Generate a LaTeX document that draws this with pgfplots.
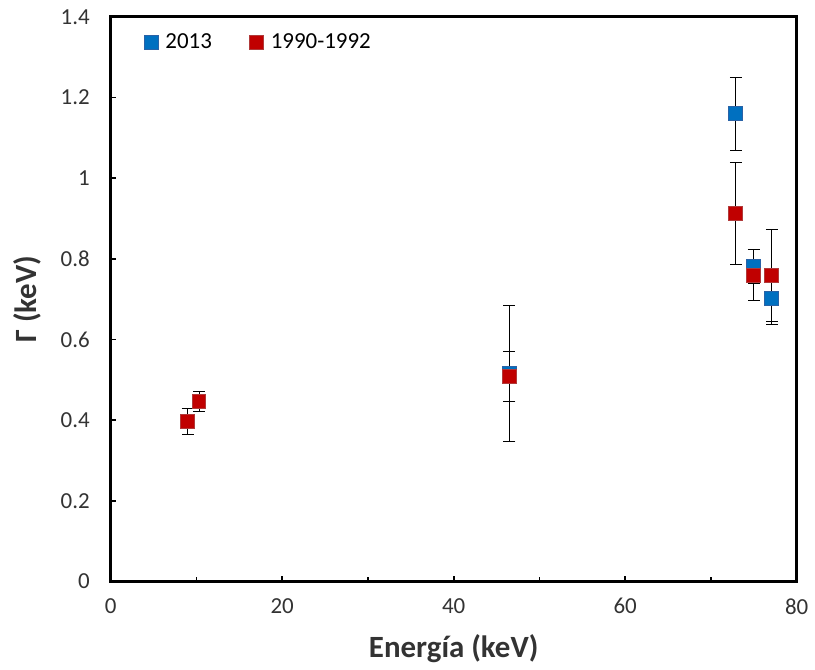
\documentclass[border=0pt]{standalone}
\usepackage{fontspec}
\setmainfont{Carlito}
\usepackage{pgfplots}
\pgfplotsset{compat=1.18}
\definecolor{blu}{HTML}{0070C0}
\definecolor{bluedge}{HTML}{2A62A6}
\definecolor{rojo}{HTML}{C00000}
\definecolor{rojoedge}{HTML}{B03A3A}

\begin{document}
\begin{tikzpicture}
  \begin{axis}[
      scale only axis,
      width=344pt, height=283pt,
      xmin=0, xmax=80,
      ymin=0, ymax=1.4,
      xtick={0,20,...,80},
      minor xtick={10,30,50,70},
      ytick={0,0.2,...,1.4},
      yticklabels={0,0.2,0.4,0.6,0.8,1,1.2,1.4},
      tick align=inside,
      xtick pos=bottom, ytick pos=left,
      major tick length=2.5pt, minor tick length=2pt,
      every tick/.style={black, line width=0.9pt},
      axis line style={line width=1.5pt},
      /pgf/number format/assume math mode=true,
      ticklabel style={font=\fontsize{11.5}{13}\selectfont, color=black!80},
      xticklabel shift=5pt,
      yticklabel shift=7pt,
      xlabel={\textbf{Energía (keV)}},
      ylabel={\textbf{Γ (keV)}},
      label style={font=\fontsize{15.5}{17}\selectfont, color=black!80},
      xlabel style={at={(axis description cs:0.5,-0.12)}, anchor=center},
      ylabel style={at={(axis description cs:-0.122,0.5)}, anchor=center},
      legend style={at={(0.04,0.985)}, anchor=north west, draw=none, fill=none,
        legend columns=2, font=\fontsize{11.5}{13}\selectfont,
        /tikz/every even column/.append style={column sep=17pt},
        /tikz/every odd column/.append style={column sep=1.5pt}},
      legend image code/.code={\draw[#1, draw=none] plot coordinates {(0.2cm,0cm)};},
      clip=false,
    ]
    \addplot[only marks, mark=square*, mark size=3.5pt,
      mark options={fill=blu, draw=bluedge, line width=0.5pt},
      error bars/.cd, y dir=both, y explicit,
      error bar style={black, line width=0.5pt},
      error mark options={rotate=90, mark size=3pt, line width=0.5pt, black}]
      coordinates {
        (9.0,0.396) +- (0,0.032)
        (10.3,0.447) +- (0,0.025)
        (46.5,0.515) +- (0,0.168)
        (72.9,1.160) +- (0,0.091)
        (75.0,0.782) +- (0,0.042)
        (77.1,0.702) +- (0,0.065)
      };
    \addlegendentry{2013}
    \addplot[only marks, mark=square*, mark size=3.5pt,
      mark options={fill=rojo, draw=rojoedge, line width=0.5pt},
      error bars/.cd, y dir=both, y explicit,
      error bar style={black, line width=0.5pt},
      error mark options={rotate=90, mark size=3pt, line width=0.5pt, black}]
      coordinates {
        (9.0,0.396) +- (0,0.032)
        (10.3,0.447) +- (0,0.025)
        (46.5,0.507) +- (0,0.062)
        (72.9,0.913) +- (0,0.127)
        (75.0,0.759) +- (0,0.063)
        (77.1,0.759) +- (0,0.114)
      };
    \addlegendentry{1990-1992}
  \end{axis}
  \useasboundingbox ([xshift=-55.5pt,yshift=-40pt]current axis.south west) rectangle ([xshift=8pt,yshift=8.5pt]current axis.north east);
\end{tikzpicture}
\end{document}
